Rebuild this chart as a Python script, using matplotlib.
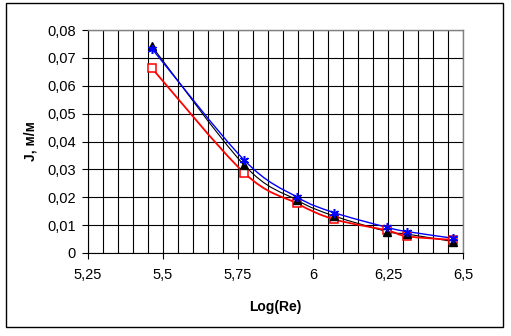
import numpy as np
import matplotlib
matplotlib.use("Agg")
import matplotlib.pyplot as plt
from matplotlib.path import Path
from matplotlib.patches import PathPatch, Rectangle
from matplotlib.ticker import MultipleLocator, FuncFormatter

plt.rcParams['font.family'] = ['Liberation Sans', 'DejaVu Sans']

# Log(Re) values and hydraulic gradient J for the three series
log_re = [5.463, 5.77, 5.946, 6.07, 6.247, 6.313, 6.467]
j_black = [0.0742, 0.0316, 0.0190, 0.0133, 0.0077, 0.0068, 0.0041]
j_red = [0.0663, 0.0288, 0.0178, 0.0121, 0.0081, 0.0060, 0.0047]
j_blue = [0.0733, 0.0334, 0.0201, 0.0145, 0.0092, 0.0077, 0.0053]

x_ticks = [5.25, 5.5, 5.75, 6.0, 6.25, 6.5]


def smooth_path(xs, ys):
    # Catmull-Rom style cubic Bezier through the points (like Excel's smoothed line)
    pts = np.column_stack([xs, ys])
    n = len(pts)
    verts = [pts[0]]
    codes = [Path.MOVETO]
    for i in range(n - 1):
        p0 = pts[max(i - 1, 0)]
        p1 = pts[i]
        p2 = pts[i + 1]
        p3 = pts[min(i + 2, n - 1)]
        c1 = p1 + (p2 - p0) / 6.0
        c2 = p2 - (p3 - p1) / 6.0
        verts += [c1, c2, p2]
        codes += [Path.CURVE4] * 3
    return Path(verts, codes)


fig = plt.figure(figsize=(5.11, 3.36), dpi=100)
ax = fig.add_axes([88 / 511, 1 - 253 / 336, 375 / 511, 223 / 336])

# outer chart frame
fig.patches.append(Rectangle((6 / 511, 9 / 336), 497 / 511, 324 / 336,
                             transform=fig.transFigure, fill=False,
                             edgecolor='black', linewidth=1.0))

ax.set_xlim(5.25, 6.5)
ax.set_ylim(0, 0.08)
ax.xaxis.set_major_locator(MultipleLocator(0.25))
ax.xaxis.set_minor_locator(MultipleLocator(0.05))
ax.yaxis.set_major_locator(MultipleLocator(0.01))
ax.set_xticks(x_ticks)

comma = lambda v, pos: ('%g' % round(v, 4)).replace('.', ',')
ax.xaxis.set_major_formatter(FuncFormatter(comma))
ax.yaxis.set_major_formatter(FuncFormatter(comma))

ax.grid(True, which='both', axis='x', color='black', linewidth=0.8, zorder=0)
ax.grid(True, which='major', axis='y', color='black', linewidth=0.8, zorder=0)
ax.set_axisbelow(True)

for side in ['top', 'right']:
    ax.spines[side].set_color('#808080')
    ax.spines[side].set_linewidth(1.0)
for side in ['left', 'bottom']:
    ax.spines[side].set_color('black')
    ax.spines[side].set_linewidth(0.8)

ax.tick_params(axis='both', which='major', direction='out', length=4,
               width=0.8, labelsize=10.5)
ax.tick_params(axis='x', which='major', pad=7)
ax.tick_params(axis='y', which='major', pad=5)
ax.tick_params(axis='x', which='minor', length=0)

# smoothed lines
for ys, col, lw in [(j_black, 'black', 0.8), (j_red, 'red', 1.3), (j_blue, 'blue', 1.0)]:
    ax.add_patch(PathPatch(smooth_path(log_re, ys), fill=False, edgecolor=col,
                           linewidth=lw, transform=ax.transData, zorder=3))

# markers
ax.plot(log_re, j_red, linestyle='none', marker='s', markersize=5.5,
        markerfacecolor='white', markeredgecolor='red', markeredgewidth=1.1, zorder=4)
ax.plot(log_re, j_black, linestyle='none', marker='^', markersize=5.5,
        color='black', zorder=5)
ax.plot(log_re, j_blue, linestyle='none', marker=(6, 2, 0), markersize=6.5,
        markeredgecolor='blue', markeredgewidth=1.1, zorder=6)

ax.set_xlabel('Log(Re)', fontsize=10, fontweight='bold', labelpad=13)
ax.set_ylabel('J, м/м', fontsize=10, fontweight='bold', labelpad=7)

fig.savefig('out.png', dpi=100)
